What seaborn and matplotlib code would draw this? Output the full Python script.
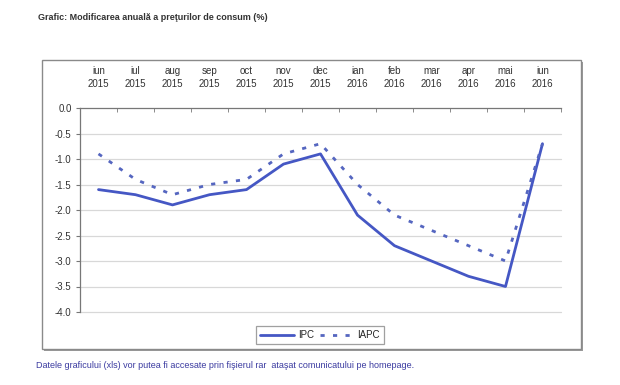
import matplotlib
matplotlib.use("Agg")
import matplotlib.pyplot as plt
import seaborn as sns
import pandas as pd
from matplotlib.patches import Rectangle

months = ["iun", "iul", "aug", "sep", "oct", "nov", "dec",
          "ian", "feb", "mar", "apr", "mai", "iun"]
years = ["2015"] * 7 + ["2016"] * 6
ipc = [-1.6, -1.7, -1.9, -1.7, -1.6, -1.1, -0.9, -2.1, -2.7, -3.0, -3.3, -3.5, -0.7]
iapc = [-0.9, -1.4, -1.7, -1.5, -1.4, -0.9, -0.7, -1.5, -2.1, -2.4, -2.7, -3.0, -0.7]
y_ticks = [0.0, -0.5, -1.0, -1.5, -2.0, -2.5, -3.0, -3.5, -4.0]

df = pd.DataFrame({"pos": range(len(months)), "IPC": ipc, "IAPC": iapc})

sns.set_style("white")
plt.rcParams["font.family"] = ["Liberation Sans", "DejaVu Sans"]

fig = plt.figure(figsize=(6.2, 3.85), dpi=100)

# outer chart frame with a slight shadow
fig.patches.append(Rectangle((44 / 620, 1 - 351 / 385), 539 / 620, 289 / 385,
                             transform=fig.transFigure, facecolor="#9a9a9a",
                             edgecolor="none", zorder=0))
fig.patches.append(Rectangle((42 / 620, 1 - 349 / 385), 539 / 620, 289 / 385,
                             transform=fig.transFigure, facecolor="white",
                             edgecolor="#8a8a8a", lw=1.0, zorder=1))

ax = fig.add_axes([80 / 620, 1 - 312 / 385, 481 / 620, 204 / 385])
ax.set_zorder(2)
ax.patch.set_alpha(0)

sns.lineplot(data=df, x="pos", y="IPC", ax=ax, color="#4557c4", lw=2.0, label="IPC")
sns.lineplot(data=df, x="pos", y="IAPC", ax=ax, color="#5566c0", lw=2.0, label="IAPC")
ax.lines[1].set_linestyle((0, (1.5, 3)))

ax.set_xlim(-0.5, len(months) - 0.5)
ax.set_ylim(-4.0, 0.0)
ax.set_yticks(y_ticks)
ax.set_yticklabels([f"{v:.1f}" for v in y_ticks], fontsize=7, color="#333333")
for v in y_ticks[1:]:
    ax.axhline(v, color="#d8d8d8", lw=0.9, zorder=0, clip_on=False)

ax.xaxis.tick_top()
ax.set_xticks(range(len(months)))
ax.set_xticklabels([f"{m}\n{y}" for m, y in zip(months, years)],
                   fontsize=7, color="#333333", linespacing=1.3)
ax.tick_params(axis="x", which="major", length=0, pad=14)
ax.set_xticks([i + 0.5 for i in range(-1, len(months))], minor=True)
ax.tick_params(axis="x", which="minor", length=3, color="#777777", top=True,
               bottom=False, direction="in")
ax.tick_params(axis="y", length=3, color="#777777", left=True, pad=3)
ax.set_xlabel("")
ax.set_ylabel("")

for side in ["right", "bottom"]:
    ax.spines[side].set_visible(False)
ax.spines["left"].set_color("#777777")
ax.spines["top"].set_color("#777777")
ax.spines["left"].set_linewidth(0.9)
ax.spines["top"].set_linewidth(0.9)

leg = ax.legend(loc="center", bbox_to_anchor=(320 / 620, 1 - 335 / 385),
                bbox_transform=fig.transFigure, ncol=2, fontsize=7,
                frameon=True, fancybox=False, handlelength=3.5,
                columnspacing=0.6, handletextpad=0.4, borderpad=0.45)
leg.get_frame().set_edgecolor("#888888")
leg.get_frame().set_linewidth(0.9)

fig.text(38 / 620, 1 - 18 / 385, "Grafic: Modificarea anuală a preţurilor de consum (%)",
         fontsize=6.5, fontweight="bold", color="#333333", va="center")
fig.text(36 / 620, 1 - 366 / 385,
         "Datele graficului (xls) vor putea fi accesate prin fişierul rar  ataşat comunicatului pe homepage.",
         fontsize=6.5, color="#3a3aa0", va="center")

fig.savefig("out.png", dpi=100)
